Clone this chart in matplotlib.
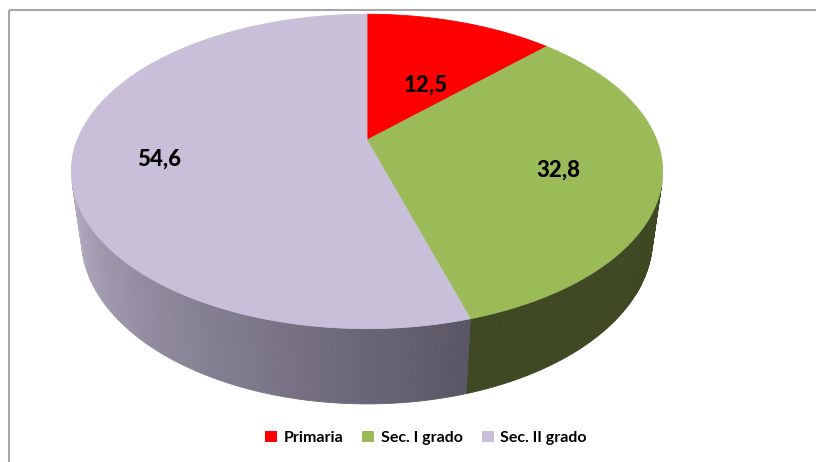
import numpy as np
import matplotlib
matplotlib.use("Agg")
import matplotlib.pyplot as plt
from matplotlib.patches import Polygon, Patch, Rectangle

# ── Data ──────────────────────────────────────────────────────────────────────
labels = ["Primaria", "Sec. I grado", "Sec. II grado"]
values = [12.5, 32.8, 54.6]
value_text = ["12,5", "32,8", "54,6"]

top_colors = ["#FF0000", "#9BBB59", "#C8BFD9"]
# side wall colours: (colour at the front edge, colour at the far edge)
side_colors = [("#B00000", "#B00000"), ("#3E4923", "#3E4923"), ("#5A5666", "#B3ABC1")]

plt.rcParams["font.family"] = ["Lato", "DejaVu Sans"]

# ── Perspective camera for the 3-D pie ─────────────────────────────────────────
EL = np.radians(31.4)   # camera elevation
DIST = 4.27             # camera distance (pie radius = 1)
FOC = 1237.0            # focal length in pixels
CX, CY = 367.0, 140.0   # where the pie centre lands on the canvas
DEPTH = 0.28            # thickness of the pie


def project(X, Y, Z):
    py = Y + DIST * np.cos(EL)
    pz = Z - DIST * np.sin(EL)
    yc = py * np.sin(EL) + pz * np.cos(EL)
    zc = py * np.cos(EL) - pz * np.sin(EL)
    return CX + FOC * X / zc, CY - FOC * yc / zc


fig = plt.figure(figsize=(8.16, 4.62), dpi=100)
ax = fig.add_axes([0, 0, 1, 1])
ax.set_xlim(0, 816)
ax.set_ylim(462, 0)
ax.axis("off")

# chart frame (only top and left edges are inside the picture)
ax.add_patch(Rectangle((8.5, 9.5), 900, 600, fill=False, ec="#A6A6A6", lw=1.5))

fracs = np.array(values) / sum(values)
edges = np.concatenate([[0], np.cumsum(fracs)]) * 2 * np.pi
# clockwise from the far point
visible_limit = -1.0 / (DIST * np.cos(EL))

# ── side walls ──
for i in range(len(values)):
    a0, a1 = edges[i], edges[i + 1]
    th = np.linspace(a0, a1, 200)
    c_front = np.array(matplotlib.colors.to_rgb(side_colors[i][0]))
    c_back = np.array(matplotlib.colors.to_rgb(side_colors[i][1]))
    for k in range(len(th) - 1):
        tm = 0.5 * (th[k] + th[k + 1])
        if np.cos(tm) >= visible_limit:
            continue
        xs = np.sin([th[k], th[k + 1], th[k + 1], th[k]])
        ys = np.cos([th[k], th[k + 1], th[k + 1], th[k]])
        zs = np.array([0, 0, -DEPTH, -DEPTH])
        px, py = project(xs, ys, zs)
        # shade: 0 at the front edge, 1 at the left silhouette
        t = np.clip((tm - edges[2]) / (np.radians(254) - edges[2]), 0, 1)
        col = c_front + (c_back - c_front) * t
        ax.add_patch(Polygon(np.column_stack([px, py]), closed=True,
                             fc=col, ec=col, lw=0.6))

# ── top faces ──
cx0, cy0 = project(0.0, 0.0, 0.0)
for i in range(len(values)):
    th = np.linspace(edges[i], edges[i + 1], 300)
    px, py = project(np.sin(th), np.cos(th), np.zeros_like(th))
    pts = np.column_stack([np.r_[cx0, px], np.r_[cy0, py]])
    ax.add_patch(Polygon(pts, closed=True, fc=top_colors[i], ec=top_colors[i], lw=0.6))

# ── value labels (radius, angle clockwise from the back) ──
label_pos = [(0.45, 29), (0.665, 107), (0.71, 260)]
for i in range(len(values)):
    r, ang = label_pos[i][0], np.radians(label_pos[i][1])
    lx, ly = project(r * np.sin(ang), r * np.cos(ang), 0.0)
    ax.text(lx, ly, value_text[i], ha="center", va="center",
            fontsize=16, fontweight=900, color="black")

# ── legend ──
handles = [Patch(fc=c, ec="none") for c in top_colors]
ax.legend(handles, labels, loc="center", bbox_to_anchor=(0.522, 0.052), ncol=3,
          frameon=False, handlelength=0.75, handleheight=0.75, handletextpad=0.4,
          columnspacing=1.2, prop={"weight": "bold", "size": 11.5})

fig.savefig("out.png", dpi=100)
